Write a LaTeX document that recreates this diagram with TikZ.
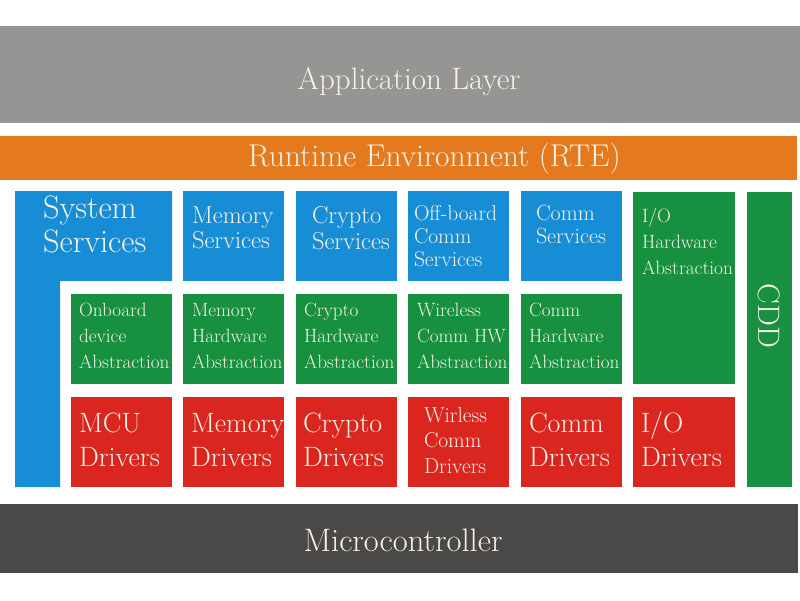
\documentclass[tikz,border=0pt]{standalone}
\definecolor{cgray}{HTML}{969594}
\definecolor{corange}{HTML}{E4791E}
\definecolor{cblue}{HTML}{178DD6}
\definecolor{cgreen}{HTML}{17903F}
\definecolor{cred}{HTML}{DA261F}
\definecolor{cdark}{HTML}{4B4848}
\definecolor{ctext}{HTML}{F5F2E8}
\newcommand{\boxtext}[3]{\fontsize{#1}{#2}\selectfont\begin{tabular}[t]{@{}l@{}}#3\end{tabular}}
\tikzset{
  blk/.style={draw=none, inner sep=0pt, outer sep=0pt, anchor=north west},
  txt/.style={text=ctext, inner sep=0pt, outer sep=0pt, anchor=base west},
  ttl/.style={text=ctext, inner sep=0pt, outer sep=0pt, anchor=base},
}
\begin{document}
\begin{tikzpicture}[x=1pt,y=-1pt]
\useasboundingbox (0,0) rectangle (800,600);
% big layers
\node[blk, fill=cgray, minimum width=800pt, minimum height=97pt] (app) at (0,26) {};
\node[blk, fill=corange, minimum width=797pt, minimum height=44pt] (rte) at (0,136) {};
\node[blk, fill=cdark, minimum width=798pt, minimum height=69pt] (mcu) at (0,504) {};
\node[ttl, font=\fontsize{31}{36}\selectfont] (appt) at (409,89) {Application Layer};
\node[ttl, font=\fontsize{31.5}{36}\selectfont] (rtet) at (434.5,166) {Runtime Environment (RTE)};
\node[ttl, font=\fontsize{32.5}{36}\selectfont] (mcut) at (403,551) {Microcontroller};
% system services L shape
\fill[cblue] (15,191) -- (172,191) -- (172,281) -- (60,281) -- (60,487) -- (15,487) -- cycle;
\node[txt] (syst) at (43,218) {\boxtext{32.5}{34}{System\\Services}};
% row 1 services
\node[blk, fill=cblue, minimum width=101pt, minimum height=90pt] (mems) at (183,191) {};
\node[blk, fill=cblue, minimum width=101pt, minimum height=90pt] (crys) at (296,191) {};
\node[blk, fill=cblue, minimum width=101pt, minimum height=90pt] (offs) at (408,191) {};
\node[blk, fill=cblue, minimum width=101pt, minimum height=90pt] (coms) at (521,191) {};
\node[txt] (memst) at (192,223) {\boxtext{24.5}{25}{Memory\\Services}};
\node[txt] (cryst) at (312,223) {\boxtext{24.5}{26}{Crypto\\Services}};
\node[txt] (offst) at (414,220) {\boxtext{21.5}{23}{Off-board\\Comm\\Services}};
\node[txt] (comst) at (536,220) {\boxtext{22}{23}{Comm\\Services}};
% IO HW abstraction and CDD
\node[blk, fill=cgreen, minimum width=102pt, minimum height=192pt] (ioha) at (633,192) {};
\node[txt] (iohat) at (642,222) {\boxtext{19.3}{26}{I/O\\Hardware\\Abstraction}};
\node[blk, fill=cgreen, minimum width=45pt, minimum height=295pt] (cdd) at (747,192) {};
\node[text=ctext, inner sep=0pt, rotate=-90, font=\fontsize{31}{34}\selectfont] (cddt) at (769,316) {CDD};
% row 2 hardware abstraction
\node[blk, fill=cgreen, minimum width=101pt, minimum height=90pt] (obha) at (71,294) {};
\node[blk, fill=cgreen, minimum width=101pt, minimum height=90pt] (memha) at (183,294) {};
\node[blk, fill=cgreen, minimum width=101pt, minimum height=90pt] (cryha) at (296,294) {};
\node[blk, fill=cgreen, minimum width=101pt, minimum height=90pt] (wlha) at (408,294) {};
\node[blk, fill=cgreen, minimum width=101pt, minimum height=90pt] (comha) at (521,294) {};
\node[txt] (obhat) at (79,316) {\boxtext{19.2}{26}{Onboard\\device\\Abstraction}};
\node[txt] (memhat) at (192,316) {\boxtext{19.2}{26}{Memory\\Hardware\\Abstraction}};
\node[txt] (cryhat) at (304,316) {\boxtext{19.2}{26}{Crypto\\Hardware\\Abstraction}};
\node[txt] (wlhat) at (417,316) {\boxtext{19.2}{26}{Wireless\\Comm HW\\Abstraction}};
\node[txt] (comhat) at (529,316) {\boxtext{19.2}{26}{Comm\\Hardware\\Abstraction}};
% row 3 drivers
\node[blk, fill=cred, minimum width=101pt, minimum height=90pt] (mcud) at (71,397) {};
\node[blk, fill=cred, minimum width=101pt, minimum height=90pt] (memd) at (183,397) {};
\node[blk, fill=cred, minimum width=101pt, minimum height=90pt] (cryd) at (296,397) {};
\node[blk, fill=cred, minimum width=101pt, minimum height=90pt] (wld) at (408,397) {};
\node[blk, fill=cred, minimum width=101pt, minimum height=90pt] (comd) at (521,397) {};
\node[blk, fill=cred, minimum width=102pt, minimum height=90pt] (iod) at (633,397) {};
\node[txt] (mcudt) at (79,432) {\boxtext{28}{34}{MCU\\Drivers}};
\node[txt] (memdt) at (191,432) {\boxtext{28}{34}{Memory\\Drivers}};
\node[txt] (crydt) at (303,432) {\boxtext{28}{34}{Crypto\\Drivers}};
\node[txt] (wldt) at (424,422) {\boxtext{21.5}{25.5}{Wirless\\Comm\\Drivers}};
\node[txt] (comdt) at (529,432) {\boxtext{28}{34}{Comm\\Drivers}};
\node[txt] (iodt) at (641,432) {\boxtext{28}{34}{I/O\\Drivers}};
\end{tikzpicture}
\end{document}
